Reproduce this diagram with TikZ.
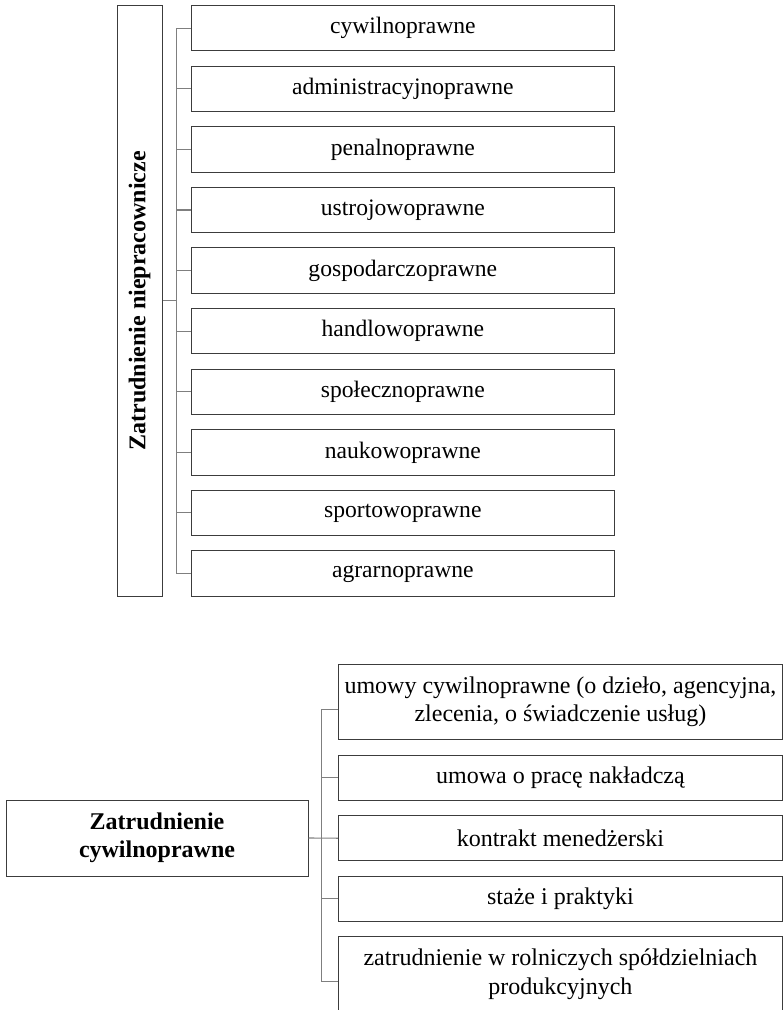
\documentclass[tikz,border=0pt]{standalone}
\usepackage{fontspec}
\setmainfont{Liberation Serif}
\usetikzlibrary{calc}
\definecolor{boxline}{HTML}{3C3C3C}
\definecolor{connline}{HTML}{7F7F7F}
\tikzset{
  box/.style={draw=boxline, line width=1pt, inner sep=0pt, align=center, text=black,
    font=\fontsize{23.6}{28}\selectfont},
  topbox/.style={box, minimum width=422.3pt, minimum height=45.3pt},
  botbox/.style={box, minimum width=444.3pt, font=\fontsize{24}{28.5}\selectfont},
  conn/.style={draw=connline, line width=1.1pt},
  headbold/.style={box, font=\fontsize{24}{28.5}\selectfont\bfseries}
}
\begin{document}
\begin{tikzpicture}[x=1pt, y=-1pt]
\useasboundingbox (0,0) rectangle (783,1010);
% ---------- top diagram ----------
\node[headbold, minimum width=45pt, minimum height=590.3pt] (L) at (139.5,300.85) {};
\node[rotate=90, font=\fontsize{24}{28.5}\selectfont\bfseries, inner sep=0pt] (Ltext) at (139.5,300.85) {Zatrudnienie niepracownicze};
\node[topbox] (t1)  at (402.85,28.3)   {cywilnoprawne};
\node[topbox] (t2)  at (402.85,88.88)  {administracyjnoprawne};
\node[topbox] (t3)  at (402.85,149.46) {penalnoprawne};
\node[topbox] (t4)  at (402.85,210.04) {ustrojowoprawne};
\node[topbox] (t5)  at (402.85,270.62) {gospodarczoprawne};
\node[topbox] (t6)  at (402.85,331.2)  {handlowoprawne};
\node[topbox] (t7)  at (402.85,391.78) {społecznoprawne};
\node[topbox] (t8)  at (402.85,452.36) {naukowoprawne};
\node[topbox] (t9)  at (402.85,512.94) {sportowoprawne};
\node[topbox] (t10) at (402.85,573.5)  {agrarnoprawne};
\draw[conn] (t1.west) -- ++(-14.4,0) coordinate (tb1) -- (tb1 |- t10.west) -- (t10.west);
\foreach \i in {2,...,9} {\draw[conn] (t\i.west) -- (t\i.west -| tb1);}
\draw[conn] (L.east) -- (L.east -| tb1);
% ---------- bottom diagram ----------
\node[headbold, minimum width=302pt, minimum height=76pt] (B) at (157,838) {Zatrudnienie\\cywilnoprawne};
\node[botbox, minimum height=75.4pt] (b1) at (560.45,702)   {umowy cywilnoprawne (o dzieło, agencyjna,\\zlecenia, o świadczenie usług)};
\node[botbox, minimum height=45pt]   (b2) at (560.45,777.8) {umowa o pracę nakładczą};
\node[botbox, minimum height=45pt]   (b3) at (560.45,838.2) {kontrakt menedżerski};
\node[botbox, minimum height=45pt]   (b4) at (560.45,898.8) {staże i praktyki};
\node[botbox, minimum height=75.4pt] (b5) at (560.45,974.4) {zatrudnienie w rolniczych spółdzielniach\\produkcyjnych};
\coordinate (s1) at ($(b1.west)+(0,7.7)$);
\coordinate (s5) at ($(b5.west)+(0,7.3)$);
\draw[conn] (s1) -- ++(-16.6,0) coordinate (bb1) -- (bb1 |- s5) -- (s5);
\draw[conn] (b2.west) -- (b2.west -| bb1);
\draw[conn] (b4.west) -- (b4.west -| bb1);
\draw[conn] (B.east) -- (b3.west);
\end{tikzpicture}
\end{document}
